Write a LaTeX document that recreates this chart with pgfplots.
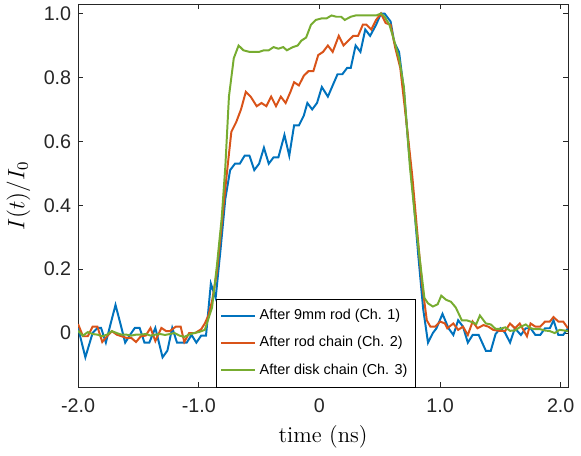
\documentclass[border=0pt]{standalone}
\usepackage{fontspec}
\usepackage{pgfplots}
\pgfplotsset{compat=1.18}
\newfontfamily\arial{Liberation Sans}
\definecolor{mblue}{rgb}{0,0.447,0.741}
\definecolor{morange}{rgb}{0.85,0.325,0.098}
\definecolor{mgreen}{rgb}{0.466,0.674,0.188}
\definecolor{axgray}{rgb}{0.15,0.15,0.15}
\begin{document}
\begin{tikzpicture}
\begin{axis}[
  width=248.5pt, height=194.5pt, scale only axis,
  xmin=-2, xmax=2.06, ymin=-0.17, ymax=1.03,
  xtick={-2,-1,0,1,2}, xticklabels={-2.0,-1.0,0,1.0,2.0},
  ytick={0,0.2,0.4,0.6,0.8,1.0}, yticklabels={0,0.2,0.4,0.6,0.8,1.0},
  tick align=inside, major tick length=2.5pt,
  axis line style={draw=axgray, line width=0.4pt},
  every tick/.style={draw=axgray, line width=0.4pt},
  ticklabel style={font=\arial\fontsize{10}{12}\selectfont, text=axgray},
  xticklabel style={yshift=-2pt},
  xlabel={time (ns)}, ylabel={$I(t)/I_0$},
  label style={font=\fontsize{11.5}{14}\selectfont},
  legend style={at={(0.485,0)}, anchor=south, draw=black, line width=0.4pt, fill=white,
    font=\arial\fontsize{7.3}{9}\selectfont, row sep=3pt, inner xsep=2pt, inner ysep=3pt},
  legend cell align=left,
  legend image post style={line width=1pt},
  every axis plot/.append style={line width=1pt},
]
\addplot[mblue] coordinates {
(-2.00,0.016)(-1.94,-0.076)(-1.88,0.000)(-1.84,0.016)(-1.81,0.016)(-1.77,-0.030)
(-1.73,0.030)(-1.69,0.088)(-1.65,0.030)(-1.61,-0.030)(-1.57,-0.006)(-1.53,0.016)
(-1.49,0.016)(-1.45,-0.030)(-1.41,-0.030)(-1.36,0.016)(-1.33,-0.030)(-1.30,-0.076)
(-1.26,-0.055)(-1.22,0.016)(-1.18,-0.030)(-1.14,-0.030)(-1.10,-0.030)(-1.06,-0.006)
(-1.02,-0.030)(-0.98,-0.008)(-0.94,-0.008)(-0.90,0.155)(-0.86,0.110)(-0.82,0.260)
(-0.78,0.420)(-0.74,0.510)(-0.70,0.530)(-0.66,0.530)(-0.62,0.555)(-0.58,0.555)
(-0.54,0.510)(-0.50,0.530)(-0.46,0.580)(-0.42,0.530)(-0.38,0.550)(-0.34,0.550)
(-0.29,0.620)(-0.25,0.555)(-0.21,0.650)(-0.17,0.650)(-0.13,0.680)(-0.10,0.720)
(-0.06,0.700)(-0.02,0.720)(0.02,0.770)(0.07,0.740)(0.11,0.775)(0.15,0.810)
(0.19,0.810)(0.23,0.830)(0.26,0.830)(0.30,0.900)(0.34,0.880)(0.38,0.950)
(0.42,0.930)(0.47,0.965)(0.51,1.000)(0.54,1.000)(0.59,0.975)(0.62,0.910)
(0.66,0.880)(0.70,0.760)(0.74,0.575)(0.78,0.420)(0.82,0.240)(0.86,0.075)
(0.90,-0.030)(0.94,0.000)(0.97,0.015)(1.02,0.060)(1.07,0.015)(1.11,-0.006)
(1.15,0.040)(1.19,0.020)(1.23,-0.030)(1.27,-0.006)(1.32,-0.006)(1.38,-0.056)
(1.42,-0.056)(1.46,-0.003)(1.50,0.015)(1.54,0.000)(1.58,-0.030)(1.62,0.015)
(1.67,-0.006)(1.71,0.015)(1.75,0.015)(1.79,-0.006)(1.83,-0.006)(1.87,0.015)
(1.91,0.015)(1.94,0.040)(1.98,-0.006)(2.02,-0.006)(2.06,0.015)
};
\addlegendentry{After 9mm rod (Ch. 1)}
\addplot[morange] coordinates {
(-2.00,0.028)(-1.96,-0.010)(-1.92,-0.010)(-1.88,0.020)(-1.84,0.020)(-1.80,-0.028)
(-1.76,-0.010)(-1.72,0.006)(-1.68,-0.005)(-1.64,-0.010)(-1.60,-0.015)(-1.56,-0.015)
(-1.52,-0.028)(-1.48,-0.010)(-1.44,-0.008)(-1.40,0.016)(-1.36,-0.025)(-1.31,0.016)
(-1.27,0.006)(-1.24,0.006)(-1.19,0.020)(-1.15,0.020)(-1.12,-0.028)(-1.08,0.000)
(-1.03,0.000)(-0.98,0.012)(-0.95,0.030)(-0.92,0.055)(-0.89,0.100)(-0.85,0.190)
(-0.81,0.340)(-0.77,0.490)(-0.73,0.630)(-0.69,0.660)(-0.65,0.700)(-0.61,0.755)
(-0.57,0.740)(-0.52,0.710)(-0.48,0.720)(-0.44,0.710)(-0.40,0.740)(-0.36,0.710)
(-0.32,0.740)(-0.28,0.720)(-0.24,0.755)(-0.21,0.785)(-0.17,0.775)(-0.13,0.805)
(-0.09,0.820)(-0.05,0.820)(-0.01,0.870)(0.03,0.880)(0.07,0.900)(0.11,0.880)
(0.16,0.930)(0.20,0.900)(0.24,0.915)(0.28,0.930)(0.32,0.930)(0.36,0.965)
(0.39,0.965)(0.43,0.950)(0.47,0.980)(0.51,1.000)(0.55,0.970)(0.59,0.965)
(0.63,0.890)(0.67,0.830)(0.73,0.630)(0.77,0.490)(0.81,0.320)(0.85,0.155)
(0.89,0.040)(0.92,0.020)(0.96,0.020)(1.00,0.036)(1.04,0.030)(1.06,0.015)
(1.11,0.030)(1.15,0.010)(1.19,0.020)(1.23,-0.006)(1.27,0.036)(1.31,0.015)
(1.36,0.025)(1.40,0.020)(1.44,0.010)(1.49,0.007)(1.54,0.007)(1.58,0.030)
(1.62,0.015)(1.66,0.030)(1.72,-0.010)(1.75,0.030)(1.79,0.020)(1.83,0.020)
(1.87,0.036)(1.91,0.036)(1.94,0.050)(1.98,0.036)(2.02,0.036)(2.06,0.015)
};
\addlegendentry{After rod chain (Ch. 2)}
\addplot[mgreen] coordinates {
(-2.00,0.007)(-1.96,-0.008)(-1.92,0.003)(-1.88,-0.003)(-1.84,-0.005)(-1.80,-0.010)
(-1.76,-0.005)(-1.72,0.006)(-1.68,0.000)(-1.64,-0.005)(-1.60,-0.005)(-1.56,-0.008)
(-1.52,-0.005)(-1.48,-0.005)(-1.44,-0.003)(-1.40,-0.008)(-1.36,-0.005)(-1.32,-0.003)
(-1.28,-0.006)(-1.24,-0.003)(-1.20,0.000)(-1.16,-0.008)(-1.12,-0.012)(-1.08,-0.005)
(-1.04,0.000)(-1.00,0.003)(-0.95,0.010)(-0.89,0.080)(-0.85,0.210)(-0.81,0.360)
(-0.78,0.520)(-0.75,0.740)(-0.71,0.860)(-0.67,0.900)(-0.63,0.885)(-0.58,0.880)
(-0.54,0.880)(-0.50,0.880)(-0.46,0.885)(-0.42,0.885)(-0.38,0.895)(-0.34,0.890)
(-0.30,0.895)(-0.27,0.885)(-0.22,0.895)(-0.18,0.900)(-0.15,0.915)(-0.11,0.925)
(-0.07,0.965)(-0.03,0.980)(0.02,0.985)(0.06,0.985)(0.10,0.994)(0.14,0.990)
(0.18,0.990)(0.21,0.980)(0.26,0.990)(0.30,0.994)(0.34,0.994)(0.38,0.994)
(0.42,0.994)(0.47,0.994)(0.51,1.000)(0.54,0.990)(0.58,0.965)(0.62,0.915)
(0.66,0.860)(0.70,0.770)(0.75,0.520)(0.79,0.370)(0.83,0.237)(0.87,0.110)
(0.90,0.093)(0.94,0.083)(0.98,0.090)(1.01,0.117)(1.05,0.104)(1.09,0.098)
(1.13,0.080)(1.18,0.040)(1.22,0.040)(1.26,0.035)(1.30,0.028)(1.33,0.055)
(1.38,0.030)(1.42,0.027)(1.46,0.013)(1.50,0.013)(1.54,0.018)(1.58,0.007)
(1.62,0.008)(1.66,0.018)(1.71,0.027)(1.75,0.015)(1.79,0.012)(1.83,0.012)
(1.87,0.008)(1.91,0.006)(1.95,0.000)(1.99,0.010)(2.03,0.008)(2.06,0.006)
};
\addlegendentry{After disk chain (Ch. 3)}
\end{axis}
\end{tikzpicture}
\end{document}
